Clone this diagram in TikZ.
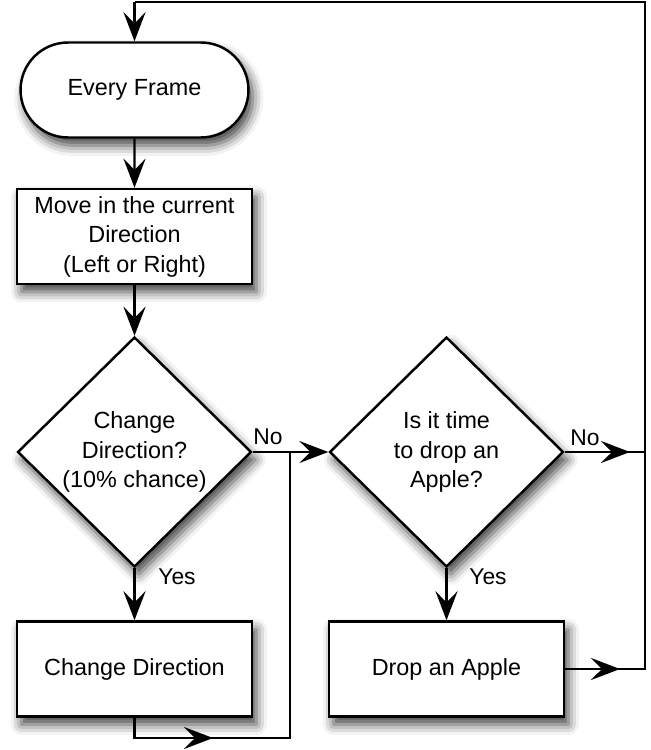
\documentclass[tikz,border=0pt]{standalone}
\usepackage{fontspec}
\setmainfont{Liberation Sans}
\usetikzlibrary{shapes.geometric,shapes.misc,arrows.meta,shadows.blur}

\tikzset{
  box/.style={draw, line width=1.4pt, fill=white, rectangle, align=center,
    minimum width=4.7cm, minimum height=1.9cm, inner sep=2pt,
    blur shadow={shadow xshift=2.5pt, shadow yshift=-4.5pt, shadow blur radius=6pt, shadow opacity=75}},
  startbox/.style={box, rounded rectangle},
  decision/.style={box, diamond, aspect=1, minimum width=4.68cm, minimum height=4.6cm, inner sep=0pt},
  line/.style={line width=1.4pt},
  flow/.style={line, -{Stealth[length=0.58cm, width=0.44cm, inset=0.22cm]}},
  lbl/.style={font=\fontsize{13}{16}\selectfont}
}

\begin{document}
\begin{tikzpicture}[x=0.02cm, y=-0.02cm, every node/.style={font=\fontsize{13.3}{16.8}\selectfont}]
  \useasboundingbox (0,0) rectangle (650,750);

  % left column
  \node[startbox] (frame) at (134.5, 90) {Every Frame};
  \node[box] (move) at (134.5, 236.5) {Move in the current\\Direction\\(Left or Right)};
  \node[decision] (dec1) at (134.5, 452) {Change\\Direction?\\(10\% chance)};
  \node[box] (change) at (134.5, 669) {Change Direction};

  % right column
  \node[decision] (dec2) at (446.5, 452) {Is it time\\to drop an\\Apple?};
  \node[box] (drop) at (446.5, 669) {Drop an Apple};

  % corners and arrow marks
  \coordinate (topleft) at (134.5, 2);
  \coordinate (topright) at (645, 2);
  \coordinate (noright) at (645, 452);
  \coordinate (nomark) at (630, 452);
  \coordinate (dropright) at (645, 669);
  \coordinate (dropmark) at (620, 669);
  \coordinate (botleft) at (134.5, 738);
  \coordinate (botmark) at (213, 738);
  \coordinate (botright) at (290, 738);
  \coordinate (joinl) at (290, 452);

  % connectors
  \draw[flow] (frame) -- (move);
  \draw[flow] (move) -- (dec1);
  \draw[flow] (dec1) -- (change);
  \draw[flow] (dec2) -- (drop);
  \draw[flow] (dec1.east) -- (dec2.west);
  \draw[line] (change.south) -- (botleft) -- (botright) -- (joinl);
  \draw[flow] (botleft) -- (botmark);
  \draw[line] (drop.east) -- (dropright) -- (topright) -- (topleft);
  \draw[flow] (drop.east) -- (dropmark);
  \draw[flow] (topleft) -- (frame.north);
  \draw[line] (dec2.east) -- (noright);
  \draw[flow] (dec2.east) -- (nomark);

  % labels
  \node[lbl] (no1) at (268, 437) {No};
  \node[lbl] (yes1) at (177, 577) {Yes};
  \node[lbl] (no2) at (585, 438) {No};
  \node[lbl] (yes2) at (488, 577) {Yes};
\end{tikzpicture}
\end{document}
